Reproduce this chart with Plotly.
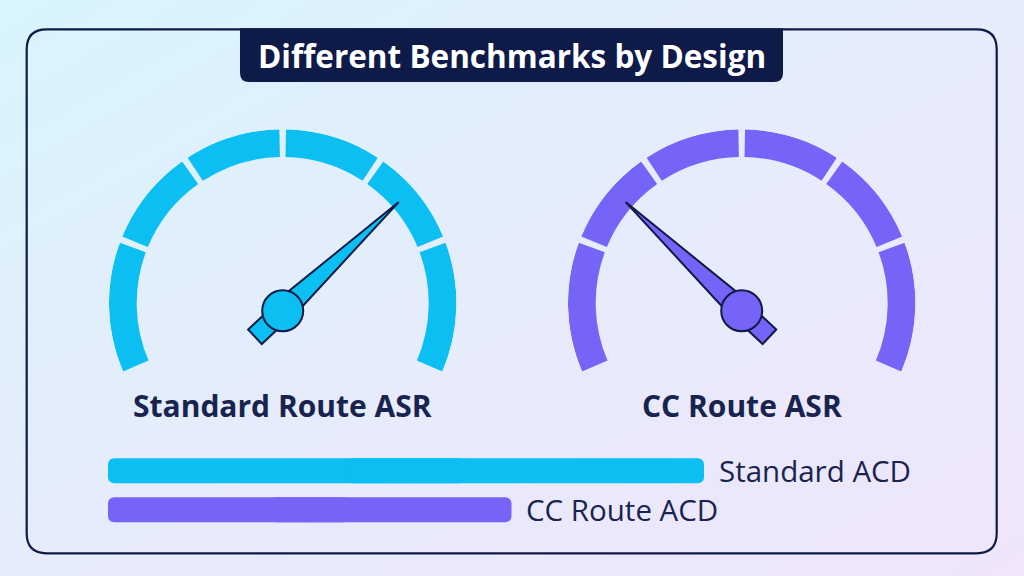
import numpy as np
import plotly.graph_objects as go

# ---------------- data ----------------
title_text = "Different Benchmarks by Design"
gauge_labels = ["Standard Route ASR", "CC Route ASR"]
gauge_values = [70.5, 29.5]            # needle position on a 0-100 gauge scale
band_edges = [0, 20, 35, 50, 65, 80, 100]
acd_labels = ["Standard ACD", "CC Route ACD"]
acd_values = [100, 67.7]               # relative bar lengths

# ---------------- style ----------------
W, H = 1024, 576
CYAN = "#0bbff3"
PURPLE = "#7663f7"
NAVY = "#0e1b48"
TEXT = "#18244f"
FONT = "Open Sans"
gauge_colors = [CYAN, PURPLE]

START = 204.3          # screen angle of gauge value 0
SWEEP = 228.6          # total sweep in degrees
K = SWEEP / 100.0
R_OUT, R_IN = 173.7, 146.0
GAP_DEG = 2.2
arc_centers = [(282.7, 303.0), (741.7, 303.0)]
HUB_DY = 7.8


def fx(x):
    return x / W


def fy(y):
    return 1 - y / H


fig = go.Figure()

# background gradient
fig.add_trace(go.Heatmap(
    z=[[1, 2], [0, 1]], x=[0, 1], y=[0, 1], zsmooth="best",
    colorscale=[[0, "#d8f4fc"], [0.5, "#e6ecfb"], [1, "#f0e5fb"]],
    showscale=False, hoverinfo="skip", xaxis="x", yaxis="y"))

layout_polars = {}
band_edges_a = np.array(band_edges, dtype=float)
band_mid = (band_edges_a[:-1] + band_edges_a[1:]) / 2
band_w = np.diff(band_edges_a)

for i, (cx, cy) in enumerate(arc_centers):
    arc_id = "polar" if i == 0 else f"polar{2 * i + 1}"
    ndl_id = f"polar{2 * i + 2}"
    col = gauge_colors[i]
    bottom = cy + R_OUT * np.sin(np.radians(START - 180))
    layout_polars[arc_id] = dict(
        domain=dict(x=[fx(cx - R_OUT), fx(cx + R_OUT)], y=[fy(bottom), fy(cy - R_OUT)]),
        sector=[180 - START, START], bgcolor="rgba(0,0,0,0)",
        radialaxis=dict(range=[0, R_OUT], visible=False),
        angularaxis=dict(rotation=START, direction="clockwise", visible=False))
    hy = cy + HUB_DY
    layout_polars[ndl_id] = dict(
        domain=dict(x=[fx(cx - R_OUT), fx(cx + R_OUT)], y=[fy(hy + R_OUT), fy(hy - R_OUT)]),
        bgcolor="rgba(0,0,0,0)",
        radialaxis=dict(range=[0, R_OUT], visible=False),
        angularaxis=dict(rotation=START, direction="clockwise", visible=False))

    fig.add_trace(go.Barpolar(
        r=[R_OUT - R_IN] * len(band_mid), base=[R_IN] * len(band_mid),
        theta=band_mid * K, width=band_w * K - GAP_DEG,
        marker=dict(color=col, line=dict(width=0)), subplot=arc_id, hoverinfo="skip"))

    phi = gauge_values[i] * K
    # tail
    fig.add_trace(go.Scatterpolar(
        r=[10, 39.3, 39.3, 10, 10],
        theta=[phi + 90, phi + 165.3, phi + 194.7, phi - 90, phi + 90],
        mode="lines", fill="toself", fillcolor=col,
        line=dict(color=NAVY, width=2), cliponaxis=False, subplot=ndl_id, hoverinfo="skip"))
    # needle
    fig.add_trace(go.Scatterpolar(
        r=[159, 11.5, 11.5, 159], theta=[phi, phi + 90, phi - 90, phi],
        mode="lines", fill="toself", fillcolor=col,
        line=dict(color=NAVY, width=2), cliponaxis=False, subplot=ndl_id, hoverinfo="skip"))
    # hub
    fig.add_trace(go.Scatterpolar(
        r=[0], theta=[0], mode="markers",
        marker=dict(size=41, color=col, line=dict(color=NAVY, width=2)),
        cliponaxis=False, subplot=ndl_id, hoverinfo="skip"))

# ACD bars: each bar drawn as two overlapping halves growing outward from its middle,
# so that both ends get rounded corners
acd_arr = np.array(acd_values, dtype=float)
fig.add_trace(go.Bar(
    x=-acd_arr * 0.6, base=acd_arr * 0.6, y=acd_labels, orientation="h", width=0.64,
    marker=dict(color=gauge_colors, line=dict(width=0)),
    xaxis="x2", yaxis="y2", hoverinfo="skip"))
fig.add_trace(go.Bar(
    x=acd_arr * 0.6, base=acd_arr * 0.4, y=acd_labels, orientation="h", width=0.64,
    marker=dict(color=gauge_colors, line=dict(width=0)),
    xaxis="x2", yaxis="y2", hoverinfo="skip"))


def rr_path(x0, y0, x1, y1, r, top_round=True):
    def p(x, y):
        return f"{fx(x):.5f},{fy(y):.5f}"
    if top_round:
        return (f"M {p(x0 + r, y0)} L {p(x1 - r, y0)} Q {p(x1, y0)} {p(x1, y0 + r)} "
                f"L {p(x1, y1 - r)} Q {p(x1, y1)} {p(x1 - r, y1)} L {p(x0 + r, y1)} "
                f"Q {p(x0, y1)} {p(x0, y1 - r)} L {p(x0, y0 + r)} Q {p(x0, y0)} {p(x0 + r, y0)} Z")
    return (f"M {p(x0, y0)} L {p(x1, y0)} L {p(x1, y1 - r)} Q {p(x1, y1)} {p(x1 - r, y1)} "
            f"L {p(x0 + r, y1)} Q {p(x0, y1)} {p(x0, y1 - r)} Z")


shapes = [
    dict(type="path", xref="paper", yref="paper", layer="above",
         path=rr_path(26.7, 29.3, 996.7, 553.3, 20),
         line=dict(color=NAVY, width=2.2), fillcolor="rgba(0,0,0,0)"),
    dict(type="path", xref="paper", yref="paper", layer="above",
         path=rr_path(240, 28.2, 783, 82, 9, top_round=False),
         line=dict(width=0), fillcolor=NAVY),
]

annotations = [
    dict(text=f"<b>{title_text}</b>", x=fx(511.5), y=fy(56), xref="paper", yref="paper",
         showarrow=False, xanchor="center", yanchor="middle",
         font=dict(family=FONT, size=31.5, color="white")),
]
for i, (cx, cy) in enumerate(arc_centers):
    annotations.append(dict(
        text=f"<b>{gauge_labels[i]}</b>", x=fx(cx), y=fy(405), xref="paper", yref="paper",
        showarrow=False, xanchor="center", yanchor="middle",
        font=dict(family=FONT, size=30, color=TEXT)))
for lab, val in zip(acd_labels, acd_values):
    annotations.append(dict(
        text=lab, x=val, y=lab, xref="x2", yref="y2", xshift=13, showarrow=False,
        xanchor="left", yanchor="middle", font=dict(family=FONT, size=29.5, color=TEXT)))

fig.update_layout(
    width=W, height=H, margin=dict(l=0, r=0, t=0, b=0),
    paper_bgcolor="#e6ecfb", plot_bgcolor="rgba(0,0,0,0)",
    showlegend=False, barcornerradius=6, barmode="overlay",
    xaxis=dict(domain=[0, 1], range=[0, 1], visible=False, fixedrange=True),
    yaxis=dict(domain=[0, 1], range=[0, 1], visible=False, fixedrange=True),
    xaxis2=dict(domain=[fx(108), fx(704)], range=[0, 100], visible=False, anchor="y2"),
    yaxis2=dict(domain=[fy(529.3), fy(451.3)], range=[1.5, -0.5], visible=False,
                anchor="x2", type="category"),
    shapes=shapes, annotations=annotations,
    **layout_polars,
)

fig.write_html("out.html", config={"displayModeBar": False},
               post_script="document.body.style.margin='0';")
